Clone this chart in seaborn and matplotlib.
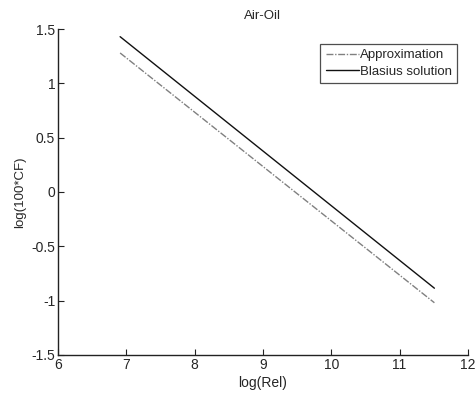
import matplotlib
matplotlib.use("Agg")
import matplotlib.pyplot as plt
import seaborn as sns
import pandas as pd

# Endpoints of the two straight lines
log_re = [6.91, 11.51]
approximation = [1.28, -1.02]
blasius = [1.43, -0.886]

df = pd.DataFrame({
    "x": log_re + log_re,
    "y": approximation + blasius,
    "series": ["Approximation"] * 2 + ["Blasius solution"] * 2,
})

sns.set_style("white")
plt.rcParams["font.family"] = ["Liberation Sans", "DejaVu Sans"]

fig = plt.figure(figsize=(4.75, 3.93), dpi=100)
ax = fig.add_axes([0.122, 0.097, 0.863, 0.829])

sns.lineplot(data=df, x="x", y="y", hue="series", style="series",
             palette={"Approximation": "#808080", "Blasius solution": "#111111"},
             dashes={"Approximation": (5, 1.2, 1, 1.2), "Blasius solution": ""},
             linewidth=1.0, ax=ax)

ax.set_xlim(6, 12)
ax.set_ylim(-1.5, 1.5)
ax.set_xticks([6, 7, 8, 9, 10, 11, 12])
ax.set_yticks([-1.5, -1, -0.5, 0, 0.5, 1, 1.5])
ax.set_yticklabels(["-1.5", "-1", "-0.5", "0", "0.5", "1", "1.5"])
ax.tick_params(direction="in", length=4, labelsize=10, color="#222222",
               bottom=True, left=True, pad=2)
ax.set_xlabel("log(Rel)", fontsize=10, labelpad=3)
ax.set_ylabel("log(100*CF)", fontsize=9.5, labelpad=4)
ax.set_title("Air-Oil", fontsize=9.5, pad=7)

for side in ["top", "right"]:
    ax.spines[side].set_visible(False)
for side in ["left", "bottom"]:
    ax.spines[side].set_color("#222222")
    ax.spines[side].set_linewidth(1.0)

leg = ax.legend(loc="upper right", bbox_to_anchor=(0.99, 0.975), fontsize=9.5,
                frameon=True, fancybox=False, edgecolor="#222222",
                handlelength=2.5, handletextpad=0.1, borderpad=0.4,
                labelspacing=0.3)
leg.get_frame().set_linewidth(0.9)

fig.savefig("out.png", dpi=100)
